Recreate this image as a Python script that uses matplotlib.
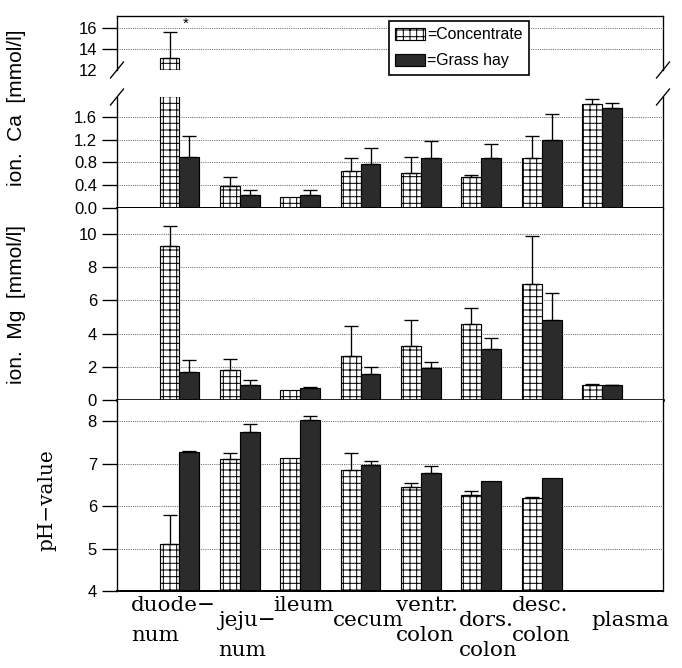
import matplotlib
matplotlib.use("Agg")
import matplotlib.pyplot as plt
import matplotlib.transforms as mtransforms
from matplotlib.patches import Patch
import numpy as np

plt.rcParams["font.family"] = ["Liberation Sans", "DejaVu Sans"]
plt.rcParams["hatch.linewidth"] = 0.6

DPI = 120

# ---- data ----
sites = ["duode\u2212\nnum", "jeju\u2212\nnum", "ileum", "cecum",
         "ventr.\ncolon", "dors.\ncolon", "desc.\ncolon", "plasma"]

ca_conc = [13.2, 0.39, 0.20, 0.65, 0.62, 0.55, 0.87, 1.83]
ca_conc_err = [2.5, 0.16, 0.0, 0.22, 0.28, 0.03, 0.40, 0.09]
ca_hay = [0.89, 0.23, 0.23, 0.77, 0.88, 0.88, 1.20, 1.75]
ca_hay_err = [0.38, 0.08, 0.08, 0.29, 0.29, 0.24, 0.45, 0.09]

mg_conc = [9.28, 1.81, 0.58, 2.67, 3.27, 4.56, 7.01, 0.92]
mg_conc_err = [1.20, 0.68, 0.0, 1.81, 1.53, 1.00, 2.85, 0.06]
mg_hay = [1.69, 0.92, 0.74, 1.57, 1.93, 3.09, 4.80, 0.88]
mg_hay_err = [0.70, 0.28, 0.04, 0.42, 0.38, 0.62, 1.63, 0.02]

ph_conc = [5.11, 7.10, 7.14, 6.84, 6.44, 6.26, 6.18, np.nan]
ph_conc_err = [0.67, 0.15, 0.0, 0.42, 0.10, 0.10, 0.04, 0.0]
ph_hay = [7.27, 7.74, 8.03, 6.97, 6.77, 6.59, 6.66, np.nan]
ph_hay_err = [0.04, 0.20, 0.10, 0.10, 0.18, 0.0, 0.0, 0.0]

# label nudges in pixels (layout only)
label_nudge = [-6, 7, 3, 8, 6, 7, 0, 28]

x = np.arange(len(sites))
w = 0.33
hay_color = "#2b2b2b"

fig = plt.figure(figsize=(682 / DPI, 668 / DPI), dpi=DPI)


def axes_px(top, bottom):
    left, right = 117, 663
    return fig.add_axes([left / 682, 1 - bottom / 668,
                         (right - left) / 682, (bottom - top) / 668])


ax_top = axes_px(16, 70)
ax_ca = axes_px(97, 208)
ax_mg = axes_px(208, 400)
ax_ph = axes_px(400, 591)


def bars(ax, conc, conc_err, hay, hay_err):
    ax.bar(x - w / 2, conc, w, color="white", edgecolor="black",
           hatch="+++", linewidth=0.7, zorder=2)
    ax.bar(x + w / 2, hay, w, color=hay_color, edgecolor="black",
           linewidth=0.7, zorder=2)
    for xs, v, e in ((x - w / 2, conc, conc_err), (x + w / 2, hay, hay_err)):
        v = np.asarray(v, float)
        e = np.asarray(e, float)
        m = (e > 0) & ~np.isnan(v)
        ax.errorbar(xs[m], v[m], yerr=[np.zeros(m.sum()), e[m]], fmt="none",
                    ecolor="black", elinewidth=0.8, capsize=4.2,
                    capthick=0.8, zorder=3)


for ax in (ax_top, ax_ca, ax_mg, ax_ph):
    ax.set_xlim(-1.035, 8.01)
    ax.set_axisbelow(True)
    ax.yaxis.grid(True, linestyle=(0, (1, 1.2)), color="0.4", linewidth=0.6)
    ax.tick_params(axis="y", direction="out", length=9, width=0.8,
                   labelsize=10, pad=3)
    ax.tick_params(axis="x", length=0)
    for s in ax.spines.values():
        s.set_linewidth(0.8)

bars(ax_top, ca_conc, ca_conc_err, ca_hay, ca_hay_err)
bars(ax_ca, ca_conc, ca_conc_err, ca_hay, ca_hay_err)
bars(ax_mg, mg_conc, mg_conc_err, mg_hay, mg_hay_err)
bars(ax_ph, ph_conc, ph_conc_err, ph_hay, ph_hay_err)

ax_top.set_ylim(12, 17.19)
ax_top.set_yticks([12, 14, 16])
ax_top.yaxis.get_major_ticks()[0].tick1line.set_visible(False)
ax_top.spines["bottom"].set_visible(False)
ax_top.text(0.1, 16.45, "*", ha="center", va="center", fontsize=9)

ax_ca.set_ylim(0, 1.95)
ax_ca.set_yticks([0, 0.4, 0.8, 1.2, 1.6])
ax_ca.set_yticklabels(["0.0", "0.4", "0.8", "1.2", "1.6"])
ax_ca.spines["top"].set_visible(False)
ax_ca.spines["bottom"].set_linewidth(1.2)

ax_mg.set_ylim(0, 11.57)
ax_mg.set_yticks([0, 2, 4, 6, 8, 10])
ax_mg.spines["top"].set_visible(False)
ax_mg.spines["bottom"].set_linewidth(1.6)

ax_ph.set_ylim(4, 8.5)
ax_ph.set_yticks([4, 5, 6, 7, 8])
ax_ph.spines["top"].set_visible(False)
ax_ph.spines["bottom"].set_linewidth(1.2)

for ax in (ax_top, ax_ca, ax_mg):
    ax.set_xticks([])

# axis break marks
for ax, yb, hpx in ((ax_top, 0, 54), (ax_ca, 1, 111)):
    dx, dy = 6.5 / 546, 8 / hpx
    for x0 in (0, 1):
        ax.plot([x0 - dx, x0 + dx], [yb - dy, yb + dy], transform=ax.transAxes,
                color="black", lw=0.8, clip_on=False, zorder=5)

# x labels, staggered
ax_ph.set_xticks(x)
ax_ph.set_xticklabels(sites, fontfamily="DejaVu Serif", fontsize=12.8,
                      linespacing=1.72, multialignment="left")
for i, (tick, lab) in enumerate(zip(ax_ph.xaxis.get_major_ticks(),
                                    ax_ph.get_xticklabels())):
    tick.set_pad(3 + (9 if i % 2 else 0))
    lab.set_transform(lab.get_transform() + mtransforms.ScaledTranslation(
        label_nudge[i] / DPI, 0, fig.dpi_scale_trans))

# y labels
fig.text(17 / 682, 1 - 108 / 668, "ion.  Ca  [mmol/l]", rotation=90,
         ha="center", va="center", fontsize=12.5)
fig.text(17 / 682, 1 - 305 / 668, "ion.  Mg  [mmol/l]", rotation=90,
         ha="center", va="center", fontsize=12.5)
fig.text(47 / 682, 1 - 500 / 668, "pH\u2212value", rotation=90,
         ha="center", va="center", fontsize=12, family="DejaVu Serif")

# legend
handles = [Patch(facecolor="white", edgecolor="black", hatch="+++", linewidth=0.7),
           Patch(facecolor=hay_color, edgecolor="black", linewidth=0.7)]
leg = ax_top.legend(handles, ["=Concentrate", "=Grass hay"], loc="upper left",
                    bbox_to_anchor=(389 / 682, 1 - 21 / 668),
                    bbox_transform=fig.transFigure, frameon=True, fancybox=False,
                    edgecolor="black", framealpha=1, fontsize=9.5,
                    handlelength=1.9, handleheight=0.8, handletextpad=0.1,
                    borderpad=0.4, labelspacing=0.7, borderaxespad=0)
leg.get_frame().set_linewidth(1.0)
leg.set_zorder(10)

fig.savefig("out.png", dpi=DPI)
